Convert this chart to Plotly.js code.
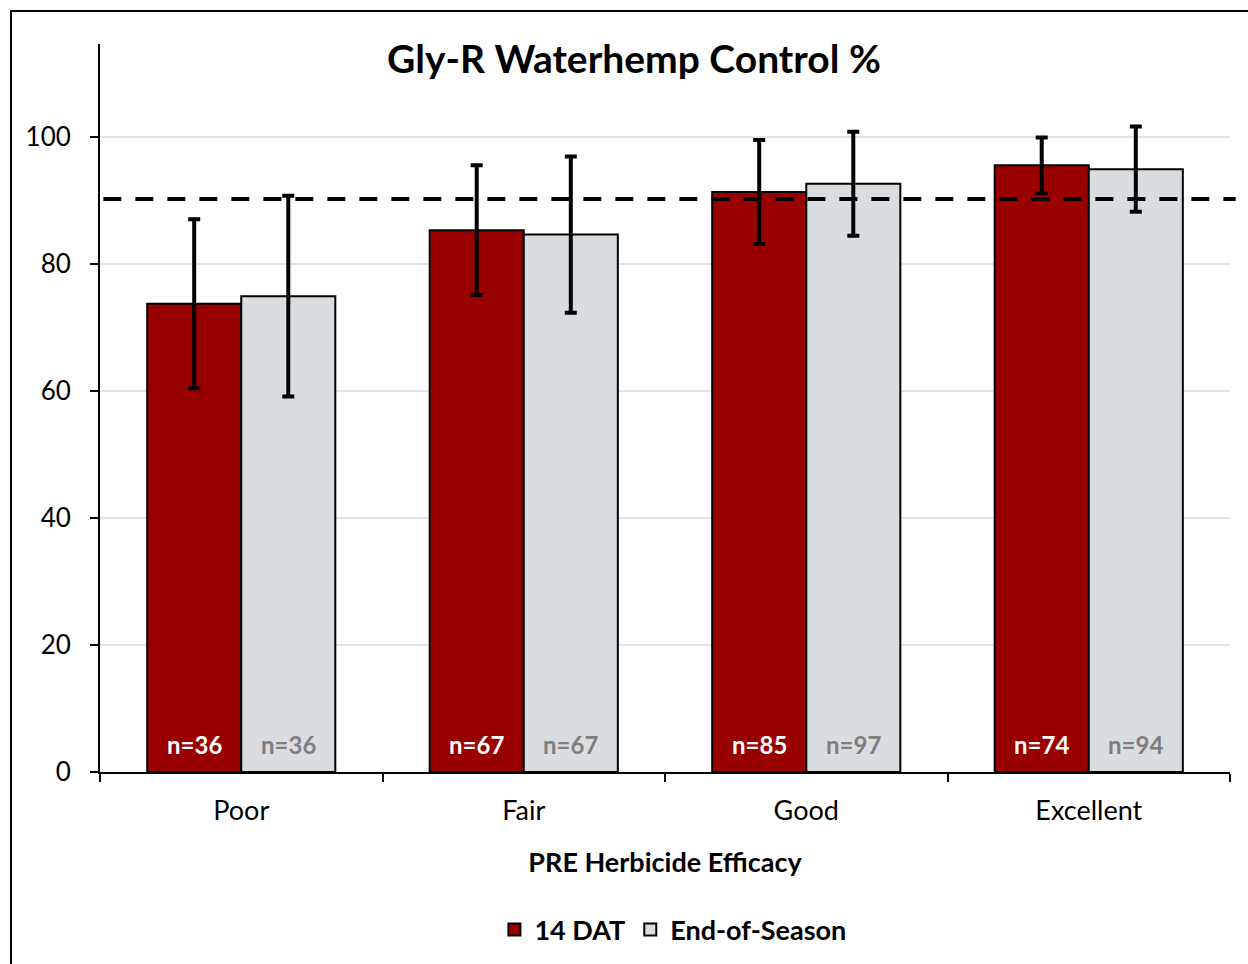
<!DOCTYPE html>
<html>
<head>
<meta charset="utf-8">
<script src="https://cdn.plot.ly/plotly-3.0.1.min.js"></script>
<style>
html,body{margin:0;padding:0;overflow:hidden;background:#fff;}
#chart{width:1248px;height:964px;position:absolute;left:0;top:0;}
#frame{position:absolute;left:10px;top:10px;width:1300px;height:1000px;border:2px solid #000;pointer-events:none;}
</style>
</head>
<body>
<div id="chart"></div>
<div id="frame"></div>
<script>
const categories = ["Poor", "Fair", "Good", "Excellent"];
const seriesNames = ["14 DAT", "End-of-Season"];
const dat14 = [73.7, 85.3, 91.3, 95.5];
const dat14Err = [13.3, 10.2, 8.2, 4.4];
const eos = [74.9, 84.6, 92.6, 94.9];
const eosErr = [15.8, 12.3, 8.2, 6.7];
const dat14N = [36, 67, 85, 74];
const eosN = [36, 67, 97, 94];
const threshold = 90.2;
const yTicks = [0, 20, 40, 60, 80, 100];

const FONT = "Lato, 'Open Sans', sans-serif";

const traces = [
  {
    type: "bar", name: seriesNames[0], x: categories, y: dat14,
    marker: {color: "#990000", line: {color: "#000", width: 2}},
    error_y: {type: "data", array: dat14Err, visible: true, color: "#000", thickness: 4, width: 6}
  },
  {
    type: "bar", name: seriesNames[1], x: categories, y: eos,
    marker: {color: "#d9dde0", line: {color: "#000", width: 2}},
    error_y: {type: "data", array: eosErr, visible: true, color: "#000", thickness: 4, width: 6}
  }
];

const annotations = [];
categories.forEach((c, i) => {
  annotations.push({x: c, y: 0, xref: "x", yref: "y", xshift: -47, yshift: 11, yanchor: "bottom",
    text: "n=" + dat14N[i], showarrow: false, font: {family: FONT, size: 24, color: "#fff", weight: "bold"}});
  annotations.push({x: c, y: 0, xref: "x", yref: "y", xshift: 47, yshift: 11, yanchor: "bottom",
    text: "n=" + eosN[i], showarrow: false, font: {family: FONT, size: 24, color: "#7f7f7f", weight: "bold"}});
});

const layout = {
  width: 1248, height: 964,
  margin: {l: 100, r: 18, t: 44, b: 192, autoexpand: false},
  paper_bgcolor: "rgba(0,0,0,0)", plot_bgcolor: "#fff",
  font: {family: FONT, color: "#000"},
  title: {text: "<b>Gly-R Waterhemp Control %</b>", font: {family: FONT, size: 39, color: "#000"},
    x: 0.508, xanchor: "center", y: 0.938, yanchor: "middle"},
  barmode: "group", bargap: 0.334, bargroupgap: 0,
  showlegend: true,
  legend: {orientation: "h", x: 0.507, xanchor: "center", y: -0.217, yanchor: "middle",
    font: {family: FONT, size: 27, color: "#000", weight: "bold"}, traceorder: "normal", itemwidth: 30},
  xaxis: {
    type: "category", showline: true, linecolor: "#000", linewidth: 2, automargin: false,
    ticks: "outside", tickson: "boundaries", ticklen: 8, tickwidth: 2, tickcolor: "#000",
    tickfont: {family: FONT, size: 27, color: "#000"}, ticklabelstandoff: 14,
    title: {text: "<b>PRE Herbicide Efficacy</b>", font: {family: FONT, size: 27, color: "#000"}, standoff: 28},
    showgrid: false
  },
  yaxis: {
    range: [0, 114.6], tickvals: yTicks, showline: true, linecolor: "#000", linewidth: 2, automargin: false,
    ticks: "outside", ticklen: 8, tickwidth: 2, tickcolor: "#000",
    tickfont: {family: FONT, size: 26, color: "#000"}, ticklabelstandoff: 14,
    showgrid: true, gridcolor: "#e3e3e3", gridwidth: 2, zeroline: false
  },
  shapes: [{type: "line", xref: "paper", yref: "y", x0: 0.003, x1: 1.005, y0: threshold, y1: threshold,
    line: {color: "#000", width: 4, dash: "18px,14px"}}],
  annotations: annotations
};

Plotly.newPlot("chart", traces, layout, {displayModeBar: false, staticPlot: true});
</script>
</body>
</html>
